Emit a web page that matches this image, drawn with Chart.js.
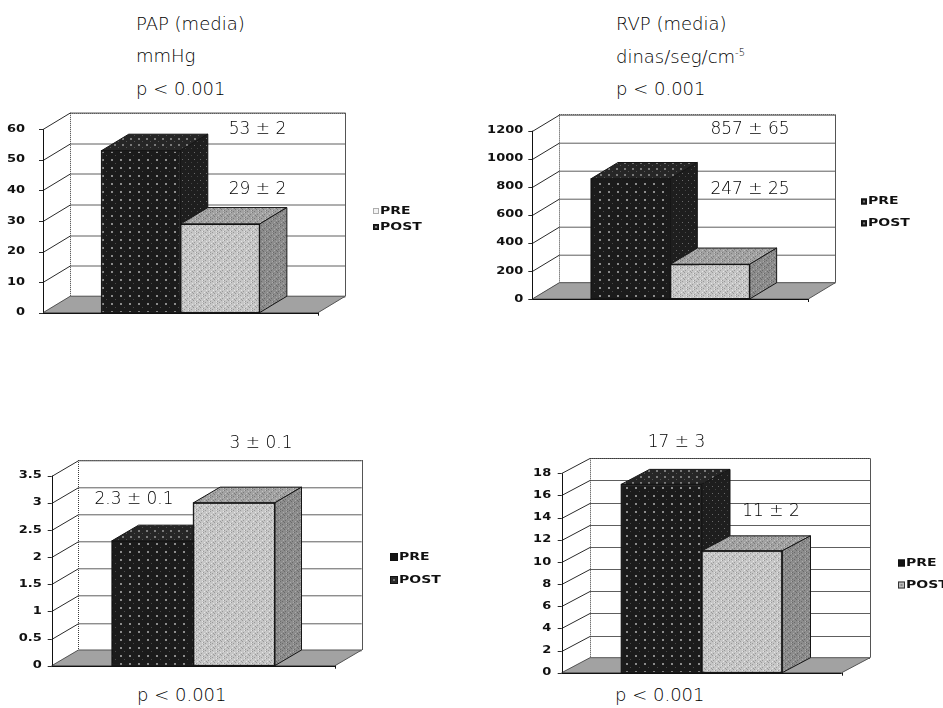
<!DOCTYPE html>
<html>
<head>
<meta charset="utf-8">
<script src="https://cdn.jsdelivr.net/npm/chart.js@4.4.1/dist/chart.umd.min.js"></script>
<style>
  html, body { margin: 0; padding: 0; background: #fff; }
  body { width: 943px; height: 708px; position: relative; overflow: hidden; }
  canvas { position: absolute; }
  .cap {
    position: absolute;
    font-family: "DejaVu Sans", sans-serif;
    font-weight: 200;
    font-size: 18px;
    line-height: 32.5px;
    color: #000;
    white-space: nowrap;
  }
  .cap sup { font-size: 10px; line-height: 0; vertical-align: 7px; }
</style>
</head>
<body>
<div class="cap" style="left:136px; top:7.5px">PAP (media)<br>mmHg<br>p &lt; 0.001</div>
<div class="cap" style="left:616px; top:8px">RVP (media)<br>dinas/seg/cm<sup>-5</sup><br>p &lt; 0.001</div>
<div class="cap" style="left:137px; top:679px">p &lt; 0.001</div>
<div class="cap" style="left:615px; top:679px">p &lt; 0.001</div>

<canvas id="pap" width="470" height="240" style="left:0px; top:100px"></canvas>
<canvas id="rvp" width="473" height="240" style="left:470px; top:100px"></canvas>
<canvas id="lowerLeft" width="470" height="270" style="left:0px; top:420px"></canvas>
<canvas id="lowerRight" width="473" height="270" style="left:470px; top:420px"></canvas>

<script>
// ---- data ----
const seriesNames = ['PRE', 'POST'];
const categories = [''];

const papMeans = [53, 29];
const papErrors = [2, 2];
const papTicks = [0, 10, 20, 30, 40, 50, 60];

const rvpMeans = [857, 247];
const rvpErrors = [65, 25];
const rvpTicks = [0, 200, 400, 600, 800, 1000, 1200];

const lowerLeftMeans = [2.3, 3];
const lowerLeftErrors = [0.1, 0.1];
const lowerLeftTicks = [0, 0.5, 1, 1.5, 2, 2.5, 3, 3.5];

const lowerRightMeans = [17, 11];
const lowerRightErrors = [3, 2];
const lowerRightTicks = [0, 2, 4, 6, 8, 10, 12, 14, 16, 18];

// ---- textures for the bar faces ----
function makePattern(w, h, base, dots) {
  const c = document.createElement('canvas');
  c.width = w; c.height = h;
  const g = c.getContext('2d');
  g.fillStyle = base;
  g.fillRect(0, 0, w, h);
  dots.forEach(([x, y, s, col]) => { g.fillStyle = col; g.fillRect(x, y, s, s); });
  return g.createPattern(c, 'repeat');
}
const speckle = (dark, light) => [
  [0, 0, 1, dark], [3, 1, 1, light], [5, 2, 1, dark], [1, 3, 1, light],
  [4, 4, 1, dark], [6, 5, 1, light], [2, 6, 1, dark], [6, 0, 1, light],
  [0, 5, 1, dark], [3, 3, 1, dark]
];
const faceFills = [
  { // PRE: black with grey dots
    front: makePattern(9, 8, '#1b1b1b', [[3, 3, 2, '#8c8c8c'], [7, 7, 1, '#4a4a4a']]),
    top:   makePattern(8, 6, '#262626', [[2, 2, 2, '#7a7a7a'], [6, 5, 1, '#555']]),
    side:  makePattern(6, 7, '#1e1e1e', [[2, 3, 1, '#6a6a6a'], [5, 6, 1, '#444']])
  },
  { // POST: speckled greys
    front: makePattern(7, 7, '#c6c6c6', speckle('#9a9a9a', '#e4e4e4')),
    top:   makePattern(7, 7, '#a2a2a2', speckle('#7c7c7c', '#c2c2c2')),
    side:  makePattern(7, 7, '#8c8c8c', speckle('#6a6a6a', '#aaaaaa'))
  }
];

// ---- panel layout (page pixels) ----
const panels = [
  {
    id: 'pap', box: [0, 100, 470, 240], area: [43, 129.3, 318, 312.7], depth: [27.3, 16.5], gap: 18,
    means: papMeans, errors: papErrors, ticks: papTicks,
    notes: [[257.5, 130], [257.5, 190]],
    legend: { x: 373, ys: [211, 227], size: 6,
      icons: [{ fill: '#f4f4f4', stroke: '#666', dash: true }, { fill: '#222', stroke: '#111', inner: '#888' }] }
  },
  {
    id: 'rvp', box: [470, 100, 473, 240], area: [532.3, 130.7, 808.3, 299], depth: [27, 16.3], gap: 9,
    means: rvpMeans, errors: rvpErrors, ticks: rvpTicks,
    notes: [[750, 129.7], [750, 189.2]],
    legend: { x: 861, ys: [201.5, 223.3], size: 6,
      icons: [{ fill: '#1a1a1a', stroke: '#111', inner: '#777' }, { fill: '#1a1a1a', stroke: '#111', inner: '#777' }] }
  },
  {
    id: 'lowerLeft', box: [0, 420, 470, 270], area: [51.7, 475.7, 335, 665.7], depth: [26.7, 15.7], gap: 10,
    means: lowerLeftMeans, errors: lowerLeftErrors, ticks: lowerLeftTicks,
    notes: [[134, 500], [261, 443.3]],
    legend: { x: 390, ys: [557, 580], size: 8,
      icons: [{ fill: '#151515', stroke: '#111' }, { fill: '#2a2a2a', stroke: '#111', inner: '#777' }] }
  },
  {
    id: 'lowerRight', box: [470, 420, 473, 270], area: [561.7, 473.3, 841.7, 672.7], depth: [28.3, 15], gap: 10.5,
    means: lowerRightMeans, errors: lowerRightErrors, ticks: lowerRightTicks,
    notes: [[676.5, 442.5], [771, 512]],
    legend: { x: 898, ys: [563, 585], size: 7,
      icons: [{ fill: '#151515', stroke: '#111' }, { fill: '#bdbdbd', stroke: '#333', inner: '#8a8a8a' }] }
  }
];

function seg(ctx, x1, y1, x2, y2) {
  ctx.beginPath(); ctx.moveTo(x1, y1); ctx.lineTo(x2, y2); ctx.stroke();
}
function poly(ctx, pts, fill, stroke) {
  ctx.beginPath();
  pts.forEach(([x, y], i) => (i ? ctx.lineTo(x, y) : ctx.moveTo(x, y)));
  ctx.closePath();
  ctx.fillStyle = fill; ctx.fill();
  if (stroke) { ctx.strokeStyle = stroke; ctx.stroke(); }
}

// Draws the 3-D box: back wall, side-wall rulings, floor, axis, then solid bars.
function cubePlugin(p) {
  const [dx, dy] = p.depth;
  const ox = p.box[0], oy = p.box[1];
  return {
    id: 'cube3d',
    beforeDatasetsDraw(chart) {
      const { ctx, chartArea: a, scales: { y } } = chart;
      const L = a.left, R = a.right, B = a.bottom;
      const topF = y.getPixelForValue(y.max);
      ctx.save();
      ctx.clearRect(0, 0, chart.width, chart.height);
      ctx.lineWidth = 1;
      // back wall rulings
      y.ticks.forEach(t => {
        const fy = Math.round(y.getPixelForValue(t.value)) + 0.5;
        ctx.strokeStyle = '#5e5e5e';
        seg(ctx, L + dx, fy - dy, R + dx, fy - dy);
      });
      // back wall frame
      ctx.strokeStyle = '#3a3a3a';
      ctx.setLineDash([1, 1]);
      seg(ctx, Math.round(L + dx) + 0.5, topF - dy, Math.round(L + dx) + 0.5, B - dy);
      seg(ctx, L + dx, Math.round(topF - dy) + 0.5, R + dx, Math.round(topF - dy) + 0.5);
      ctx.setLineDash([]);
      ctx.strokeStyle = '#555';
      seg(ctx, Math.round(R + dx) + 0.5, topF - dy, Math.round(R + dx) + 0.5, B - dy);
      // side wall rulings and ticks
      ctx.strokeStyle = '#2a2a2a';
      y.ticks.forEach(t => {
        const fy = Math.round(y.getPixelForValue(t.value)) + 0.5;
        seg(ctx, L, fy, L + dx, fy - dy);
        seg(ctx, L - 4, fy, L, fy);
      });
      // floor
      poly(ctx, [[L, B], [R, B], [R + dx, B - dy], [L + dx, B - dy]], '#a2a2a2', '#555');
      // axes
      ctx.strokeStyle = '#111';
      seg(ctx, Math.round(L) + 0.5, topF, Math.round(L) + 0.5, B);
      seg(ctx, L, Math.round(B) + 0.5, R, Math.round(B) + 0.5);
      seg(ctx, Math.round(R) + 0.5, B, Math.round(R) + 0.5, B + 3);
      // tick labels
      ctx.fillStyle = '#111';
      ctx.font = 'bold 10px "DejaVu Sans", sans-serif';
      ctx.textAlign = 'right';
      ctx.textBaseline = 'middle';
      y.ticks.forEach(t => {
        const fy = y.getPixelForValue(t.value);
        ctx.save();
        ctx.translate(L - p.gap, fy);
        ctx.scale(1.3, 1);
        ctx.fillText(String(t.value), 0, 0);
        ctx.restore();
      });
      ctx.restore();
    },
    afterDatasetsDraw(chart) {
      const ctx = chart.ctx;
      ctx.save();
      ctx.lineWidth = 1;
      // left-to-right so each bar's front face hides the side of the one before it
      chart.data.datasets.forEach((ds, i) => {
        const el = chart.getDatasetMeta(i).data[0];
        el.draw(ctx);
        const x0 = el.x - el.width / 2, x1 = el.x + el.width / 2;
        const yt = el.y, yb = el.base;
        poly(ctx, [[x0, yt], [x0 + dx, yt - dy], [x1 + dx, yt - dy], [x1, yt]], faceFills[i].top, '#151515');
        poly(ctx, [[x1, yt], [x1 + dx, yt - dy], [x1 + dx, yb - dy], [x1, yb]], faceFills[i].side, '#151515');
        ctx.strokeStyle = '#151515';
        ctx.strokeRect(x0, yt, x1 - x0, yb - yt);
      });
      ctx.restore();
    },
    afterDraw(chart) {
      const ctx = chart.ctx;
      ctx.save();
      // mean ± error labels
      ctx.fillStyle = '#000';
      ctx.font = '200 17px "DejaVu Sans", sans-serif';
      ctx.textAlign = 'center';
      ctx.textBaseline = 'middle';
      p.means.forEach((m, i) => {
        const [nx, ny] = p.notes[i];
        ctx.fillText(m + ' \u00b1 ' + p.errors[i], nx - ox, ny - oy);
      });
      // legend
      const lg = p.legend;
      ctx.font = 'bold 10px "DejaVu Sans", sans-serif';
      ctx.textAlign = 'left';
      seriesNames.forEach((name, i) => {
        const ic = lg.icons[i];
        const ix = lg.x - ox, iy = lg.ys[i] - oy;
        const s = lg.size;
        ctx.fillStyle = ic.fill;
        ctx.fillRect(ix, iy - s / 2, s, s);
        if (ic.inner) { ctx.fillStyle = ic.inner; ctx.fillRect(ix + s / 2 - 1, iy - 1, 2, 2); }
        ctx.strokeStyle = ic.stroke;
        if (ic.dash) ctx.setLineDash([1, 1]);
        ctx.strokeRect(ix + 0.5, iy - s / 2 + 0.5, s - 1, s - 1);
        ctx.setLineDash([]);
        ctx.fillStyle = '#111';
        ctx.save();
        ctx.translate(ix + s + 1, iy);
        ctx.scale(1.4, 1);
        ctx.fillText(name, 0, 0);
        ctx.restore();
      });
      ctx.restore();
    }
  };
}

panels.forEach(p => {
  const [bx, by, bw, bh] = p.box;
  const [l, t, r, b] = p.area;
  new Chart(document.getElementById(p.id), {
    type: 'bar',
    data: {
      labels: categories,
      datasets: seriesNames.map((name, i) => ({
        label: name,
        data: [p.means[i]],
        backgroundColor: faceFills[i].front,
        borderColor: '#151515',
        borderWidth: 1,
        borderSkipped: false,
        categoryPercentage: 0.575,
        barPercentage: 1
      }))
    },
    options: {
      responsive: false,
      devicePixelRatio: 1,
      animation: false,
      events: [],
      layout: { padding: { left: l - bx, top: t - by, right: bx + bw - r, bottom: by + bh - b } },
      plugins: { legend: { display: false }, tooltip: { enabled: false } },
      scales: {
        x: { display: false, offset: true },
        y: {
          display: false,
          min: p.ticks[0],
          max: p.ticks[p.ticks.length - 1],
          afterBuildTicks: s => { s.ticks = p.ticks.map(v => ({ value: v })); }
        }
      }
    },
    plugins: [cubePlugin(p)]
  });
});
</script>
</body>
</html>
